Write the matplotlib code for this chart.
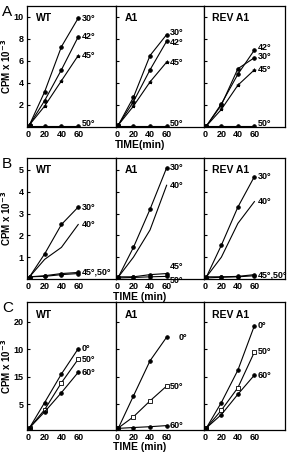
import matplotlib
matplotlib.use('Agg')
import matplotlib.pyplot as plt

plt.rcParams['font.family'] = ['Liberation Sans', 'DejaVu Sans']
plt.rcParams['font.weight'] = 'bold'

# time points (min)
time = [2, 20, 40, 60]
strains = ['WT', 'A1', 'REV A1']

# panel A, CPM x 10^-3
a_temps = ['30°', '42°', '45°', '50°']
a_wt = [[0.2, 3.2, 7.3, 9.9], [0.2, 2.4, 5.2, 8.2], [0.2, 1.9, 4.2, 6.5], [0.1, 0.1, 0.1, 0.1]]
a_a1 = [[0.2, 2.7, 6.5, 8.4], [0.2, 2.3, 5.2, 7.8], [0.2, 1.9, 4.1, 5.9], [0.1, 0.1, 0.1, 0.1]]
a_rev = [[0.1, 2.0, 5.3, 6.3], [0.1, 2.1, 4.8, 7.0], [0.1, 1.6, 3.8, 5.2], [0.05, 0.05, 0.05, 0.05]]

# panel B
b_temps = ['30°', '40°', '45°', '50°']
b_wt = [[0.1, 1.15, 2.5, 3.3], [0.1, 0.9, 1.45, 2.5], [0.1, 0.15, 0.25, 0.3], [0.1, 0.12, 0.2, 0.25]]
b_a1 = [[0.1, 1.45, 3.2, 5.1], [0.1, 1.0, 2.25, 4.3], [0.1, 0.1, 0.2, 0.25], [0.05, 0.07, 0.1, 0.12]]
b_rev = [[0.1, 1.55, 3.3, 4.7], [0.1, 1.0, 2.55, 3.55], [0.1, 0.1, 0.12, 0.2], [0.05, 0.08, 0.1, 0.15]]

# panel C
c_temps = ['0°', '50°', '60°']
c_wt = [[0.7, 5.3, 10.5, 15.1], [0.7, 4.0, 8.9, 13.2], [0.7, 3.6, 7.1, 10.8]]
c_a1 = [[0.7, 6.5, 12.9, 17.2], [0.7, 2.7, 5.6, 8.3], [0.6, 0.75, 0.9, 1.1]]
c_rev = [[0.7, 5.3, 11.2, 19.3], [0.7, 3.9, 8.0, 14.5], [0.7, 3.1, 6.8, 10.3]]
c_ytick_labels = ['5', '15', '10', '20']

W, H = 289, 457
fig = plt.figure(figsize=(W / 100, H / 100), dpi=100)

cols = [(27, 116), (116, 204), (204, 285)]


def ax_at(x0, x1, top, bottom):
    return fig.add_axes([x0 / W, 1 - bottom / H, (x1 - x0) / W, (bottom - top) / H])


def draw_row(top, bottom, data, markers, fills, ylim, yticks, yticklabels,
             label_txt, label_off, xlabel, xlabel_dy, letter):
    axes = []
    for j, (x0, x1) in enumerate(cols):
        ax = ax_at(x0, x1, top, bottom)
        for k, vals in enumerate(data[j]):
            ax.plot(time, vals, color='k', lw=0.8, marker=markers[k], ms=2.6,
                    mfc=fills[k], mec='k', mew=0.6)
        for k, txt in enumerate(label_txt[j]):
            if txt is None:
                continue
            dx, dy = label_off[j][k]
            ax.annotate(txt, (time[-1], data[j][k][-1]), xytext=(2.5 + dx, dy),
                        textcoords='offset points', fontsize=6.5, fontweight='bold',
                        va='center', ha='left')
        ax.set_xlim(-1, 105 if j < 2 else 97)
        ax.set_ylim(*ylim)
        ax.set_xticks([0, 20, 40, 60])
        ax.set_yticks(yticks)
        if j == 0:
            ax.set_yticklabels(yticklabels)
        else:
            ax.set_yticklabels([])
        ax.tick_params(direction='in', length=2.5, width=0.8, labelsize=6.5, pad=2.5)
        ax.tick_params(axis='x', length=0, pad=2)
        for s in ax.spines.values():
            s.set_linewidth(0.9)
        ax.text(0.1, 0.9, strains[j], transform=ax.transAxes, fontsize=7.5,
                fontweight='bold', va='center')
        axes.append(ax)
    fig.text(6.5 / W, 1 - (top + bottom) / 2 / H, 'CPM x 10$^{-3}$', rotation=90,
             ha='center', va='center', fontsize=7, fontweight='bold')
    fig.text(140 / W, 1 - (bottom + xlabel_dy) / H, xlabel, ha='center', va='center',
             fontsize=7.5, fontweight='bold')
    fig.text(2 / W, 1 - (top + 6) / H, letter, ha='left', va='center',
             fontsize=11, fontweight='normal')


lab_a = [(0, 0), (0, 0), (0, 0), (0, 2)]
draw_row(6, 127, [a_wt, a_a1, a_rev],
         ['o', 'o', '*', 'o'], ['k', 'k', 'k', 'k'], (0, 11), [2, 4, 6, 8, 10],
         ['2', '4', '6', '8', '10'],
         [a_temps, a_temps, a_temps],
         [lab_a, [(0, 1.5), (0, -1), (0, 0), (0, 2)], [(0, 1), (0, 1.5), (0, 0), (0, 2)]],
         'TIME(min)', 18, 'A')

z4 = [(0, 0)] * 4
draw_row(158, 279, [b_wt, b_a1, b_rev],
         ['o', '', 'o', 'o'], ['k', 'k', 'k', 'k'], (0, 5.55), [1, 2, 3, 4, 5],
         ['1', '2', '3', '4', '5'],
         [['30°', '40°', '45°,50°', None], b_temps, ['30°', '40°', '45°,50°', None]],
         [z4, [(0, 0), (0, 0), (0, 5), (0, -3)], z4],
         'TIME (min)', 18, 'B')

z3 = [(0, 0)] * 3
draw_row(302, 430, [c_wt, c_a1, c_rev],
         ['o', 's', 'o'], ['k', 'w', 'k'], (0.3, 23.6), [5, 10, 15, 20],
         c_ytick_labels,
         [c_temps, c_temps, c_temps], [z3, [(6, 0), (0, 0), (0, 0)], z3],
         'TIME (min)', 17, 'C')

fig.savefig('out.png', dpi=100)
